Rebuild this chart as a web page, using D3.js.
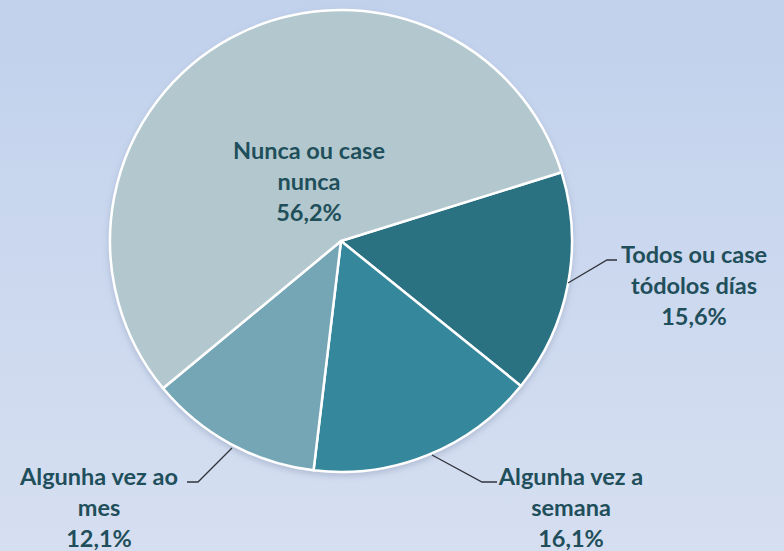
<!DOCTYPE html>
<html>
<head>
<meta charset="utf-8">
<script src="https://cdn.jsdelivr.net/npm/d3@7"></script>
<style>
  body { margin: 0; }
  svg { display: block; }
</style>
</head>
<body>
<div id="chart"></div>
<script>
// data
var categories = ["Todos ou case tódolos días", "Algunha vez a semana", "Algunha vez ao mes", "Nunca ou case nunca"];
var values = [15.6, 16.1, 12.1, 56.2];
var labelLines = [
  ["Todos ou case", "tódolos días"],
  ["Algunha vez a", "semana"],
  ["Algunha vez ao", "mes"],
  ["Nunca ou case", "nunca"]
];
var colors = ["#2a7282", "#35879c", "#75a6b5", "#b2c8ce"];

var width = 784, height = 551,
    cx = 341, cy = 241, radius = 231,
    textColor = "#1f4f5b";

var svg = d3.select("#chart").append("svg")
    .attr("width", width)
    .attr("height", height);

var defs = svg.append("defs");
var grad = defs.append("linearGradient")
    .attr("id", "bg").attr("x1", 0).attr("y1", 0).attr("x2", 0).attr("y2", 1);
grad.append("stop").attr("offset", "0%").attr("stop-color", "#c1d1ec");
grad.append("stop").attr("offset", "100%").attr("stop-color", "#d6dff1");

var shadow = defs.append("filter").attr("id", "shadow")
    .attr("x", "-10%").attr("y", "-10%").attr("width", "120%").attr("height", "120%");
shadow.append("feDropShadow")
    .attr("dx", 0).attr("dy", 3).attr("stdDeviation", 3)
    .attr("flood-color", "#7080a0").attr("flood-opacity", 0.35);

svg.append("rect")
    .attr("width", width).attr("height", height)
    .attr("fill", "url(#bg)");

var startDeg = 72.7;
var pie = d3.pie()
    .sort(null)
    .startAngle(startDeg * Math.PI / 180)
    .endAngle(startDeg * Math.PI / 180 + 2 * Math.PI);

var arc = d3.arc().innerRadius(0).outerRadius(radius);

var g = svg.append("g")
    .attr("transform", "translate(" + cx + "," + cy + ")");

var slices = g.append("g").attr("filter", "url(#shadow)");
slices.selectAll("path.slice")
    .data(pie(values))
    .enter().append("path")
    .attr("class", "slice")
    .attr("d", arc)
    .style("fill", function(d, i) { return colors[i]; })
    .style("stroke", "#ffffff")
    .style("stroke-width", 2.5)
    .style("stroke-linejoin", "round");

// label anchors and leader lines
var labelPos = [
  {x: 694, y: 255},
  {x: 571, y: 477},
  {x: 99,  y: 477},
  {x: 309, y: 151}
];
var leaders = [
  [[568, 283], [607, 260], [617, 260]],
  [[432, 455], [482, 482], [497, 482]],
  [[232, 448], [198, 482], [187, 482]],
  null
];
var lineGap = 31;

svg.selectAll("path.leader")
    .data(leaders.filter(function(d) { return d; }))
    .enter().append("path")
    .attr("class", "leader")
    .attr("d", d3.line())
    .style("fill", "none")
    .style("stroke", "#30353b")
    .style("stroke-width", 1.3);

var labels = svg.selectAll("text.lbl")
    .data(pie(values))
    .enter().append("text")
    .attr("class", "lbl")
    .attr("text-anchor", "middle")
    .style("font-family", "Lato, 'Open Sans', sans-serif")
    .style("font-weight", "bold")
    .style("font-size", "23.5px")
    .style("fill", textColor);

labels.each(function(d, i) {
  var t = d3.select(this);
  var lines = labelLines[i].concat([d3.format(".1f")(d.data).replace(".", ",") + "%"]);
  lines.forEach(function(s, j) {
    t.append("tspan")
      .attr("x", labelPos[i].x)
      .attr("y", labelPos[i].y + j * lineGap)
      .attr("dy", "0.35em")
      .text(s);
  });
});
</script>
</body>
</html>
